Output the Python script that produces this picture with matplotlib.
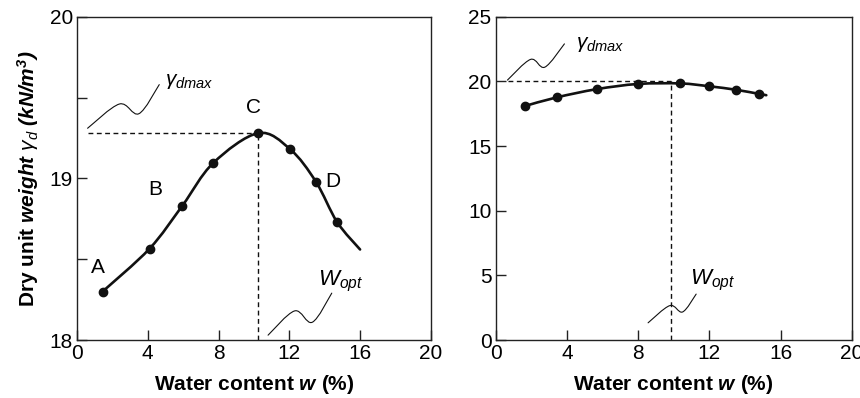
import matplotlib
matplotlib.use("Agg")
import matplotlib.pyplot as plt
from matplotlib.path import Path
from matplotlib.patches import PathPatch
import numpy as np

plt.rcParams['font.family'] = ['Liberation Sans', 'DejaVu Sans']
plt.rcParams['mathtext.fontset'] = 'custom'
plt.rcParams['mathtext.rm'] = 'Liberation Sans'
plt.rcParams['mathtext.it'] = 'Liberation Sans:italic'
plt.rcParams['mathtext.bf'] = 'Liberation Sans:bold'
plt.rcParams['mathtext.bfit'] = 'Liberation Sans:italic:bold'

# left chart: compaction curve points
w_left = [1.45, 4.1, 5.95, 7.7, 10.25, 12.05, 13.5, 14.7]
g_left = [18.30, 18.565, 18.83, 19.095, 19.28, 19.18, 18.98, 18.73]
curve_end_left = (16.0, 18.56)
labels_left = ["A", "B", "C", "D"]
label_pos_left = [(1.2, 18.45), (4.4, 18.93), (9.95, 19.44), (14.45, 18.98)]
gmax_left = 19.28
wopt_left = 10.25

# right chart
w_right = [1.66, 3.42, 5.68, 8.0, 10.38, 12.0, 13.5, 14.8]
g_right = [18.1, 18.76, 19.4, 19.8, 19.84, 19.62, 19.35, 19.03]
curve_end_right = (15.2, 18.93)
gmax_right = 20.0
wopt_right = 9.82

# hand-drawn squiggle leaders (x, y)
sq_g_left = [(0.6, 19.31), (2.4, 19.46), (3.5, 19.40), (4.65, 19.58)]
sq_w_left = [(10.8, 18.03), (12.3, 18.18), (13.3, 18.11), (14.4, 18.29)]
sq_g_right = [(0.66, 20.1), (1.96, 21.7), (2.76, 21.1), (3.86, 22.9)]
sq_w_right = [(8.56, 1.33), (9.78, 2.66), (10.5, 2.17), (11.26, 3.55)]

INK = "#111111"
DASH = (0, (3.5, 2.5))


def smooth_path(pts):
    # Catmull-Rom -> cubic bezier segments
    pts = np.asarray(pts, float)
    verts = [pts[0]]
    codes = [Path.MOVETO]
    n = len(pts)
    for i in range(n - 1):
        p0 = pts[i - 1] if i > 0 else pts[i]
        p1 = pts[i]
        p2 = pts[i + 1]
        p3 = pts[i + 2] if i + 2 < n else pts[i + 1]
        c1 = p1 + (p2 - p0) / 6.0
        c2 = p2 - (p3 - p1) / 6.0
        verts += [c1, c2, p2]
        codes += [Path.CURVE4] * 3
    return Path(verts, codes)


def draw_curve(ax, pts, lw):
    ax.add_patch(PathPatch(smooth_path(pts), fill=False, lw=lw, ec=INK,
                           capstyle='round', joinstyle='round'))


def style_axes(ax):
    for s in ax.spines.values():
        s.set_linewidth(1.0)
        s.set_color("#222222")
    ax.tick_params(direction='in', length=7, width=1.0, labelsize=15,
                   colors="#222222", labelcolor="black", pad=3)
    ax.set_xlim(0, 20)
    ax.set_xticks([0, 4, 8, 12, 16, 20])
    ax.set_xlabel(r"Water content $\mathbfit{w}$ (%)", fontsize=15,
                  fontweight='bold', labelpad=7)


fig = plt.figure(figsize=(8.6, 3.98), dpi=100)
ax1 = fig.add_axes([0.0895, 0.1457, 0.4115, 0.8123])
ax2 = fig.add_axes([0.5764, 0.1457, 0.4140, 0.8123])

# ---- left
style_axes(ax1)
ax1.set_ylim(18, 20)
ax1.set_yticks([18, 18.5, 19, 19.5, 20])
ax1.set_yticklabels(["18", "", "19", "", "20"])
draw_curve(ax1, list(zip(w_left, g_left)) + [curve_end_left], 1.9)
ax1.plot(w_left, g_left, 'o', color=INK, ms=6)
ax1.plot([0.6, wopt_left], [gmax_left, gmax_left], ls=DASH, color=INK, lw=1.0)
ax1.plot([wopt_left, wopt_left], [18, gmax_left], ls=DASH, color=INK, lw=1.0)
for t, (x, y) in zip(labels_left, label_pos_left):
    ax1.text(x, y, t, fontsize=15, ha='center', va='center')
draw_curve(ax1, sq_g_left, 0.8)
draw_curve(ax1, sq_w_left, 0.8)
ax1.text(5.0, 19.6, r"$\gamma_{dmax}$", fontsize=15, ha='left', va='center')
ax1.text(13.6, 18.36, r"$W_{opt}$", fontsize=16, ha='left', va='center')
ax1.set_ylabel(r"Dry unit $\mathbfit{weight}$ $\gamma_{d}$ $\mathbfit{(kN/m^3)}$",
               fontsize=15, fontweight='bold', labelpad=6)

# ---- right
style_axes(ax2)
ax2.set_ylim(0, 25)
ax2.set_yticks([0, 5, 10, 15, 20, 25])
draw_curve(ax2, list(zip(w_right, g_right)) + [curve_end_right], 1.9)
ax2.plot(w_right, g_right, 'o', color=INK, ms=6)
ax2.plot([0.7, wopt_right], [gmax_right, gmax_right], ls=DASH, color=INK, lw=1.0)
ax2.plot([wopt_right, wopt_right], [0, gmax_right], ls=DASH, color=INK, lw=1.0)
draw_curve(ax2, sq_g_right, 0.8)
draw_curve(ax2, sq_w_right, 0.8)
ax2.text(4.5, 22.85, r"$\gamma_{dmax}$", fontsize=15, ha='left', va='center')
ax2.text(10.9, 4.6, r"$W_{opt}$", fontsize=16, ha='left', va='center')

fig.savefig("out.png", dpi=100)
